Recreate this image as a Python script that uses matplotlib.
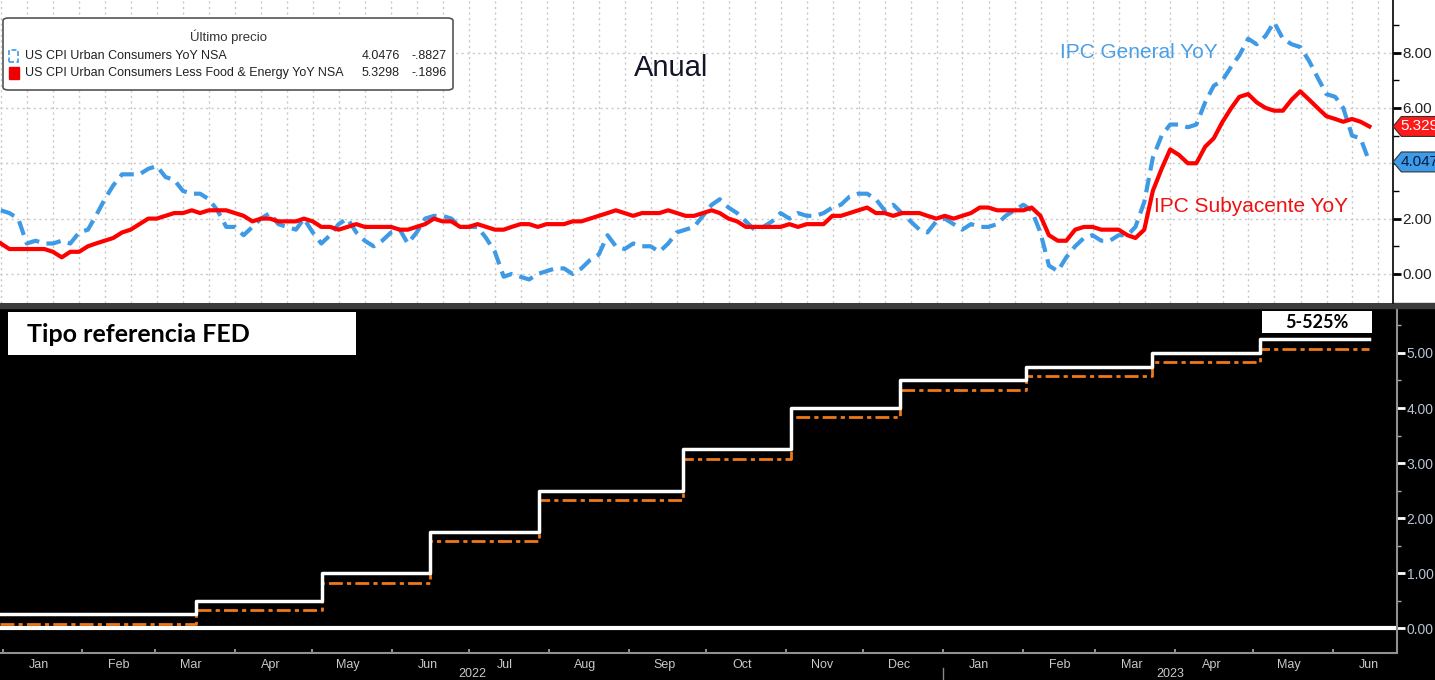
import matplotlib
matplotlib.use("Agg")
import matplotlib.pyplot as plt
import matplotlib.dates as mdates
import matplotlib.transforms as mtransforms
from matplotlib.patches import FancyBboxPatch, Rectangle, Polygon
import pandas as pd

# ---------------- data ----------------
cpi_start = "2010-03-31"
cpi_headline = [2.3, 2.2, 2.0, 1.1, 1.2, 1.1, 1.1, 1.2, 1.1, 1.5,
                1.6, 2.1, 2.7, 3.2, 3.6, 3.6, 3.6, 3.8, 3.9, 3.5, 3.4, 3.0,
                2.9, 2.9, 2.7, 2.3, 1.7, 1.7, 1.4, 1.7, 2.0, 2.2, 1.8, 1.7,
                1.6, 2.0, 1.5, 1.1, 1.4, 1.8, 2.0, 1.5, 1.2, 1.0, 1.2, 1.5,
                1.6, 1.1, 1.5, 2.0, 2.1, 2.1, 2.0, 1.7, 1.7, 1.7, 1.3, 0.8,
                -0.1, 0.0, -0.1, -0.2, 0.0, 0.1, 0.2, 0.2, 0.0, 0.2, 0.5, 0.7,
                1.4, 1.0, 0.9, 1.1, 1.0, 1.0, 0.8, 1.1, 1.5, 1.6, 1.7, 2.1,
                2.5, 2.7, 2.4, 2.2, 1.9, 1.6, 1.7, 1.9, 2.2, 2.0, 2.2, 2.1,
                2.1, 2.2, 2.4, 2.5, 2.8, 2.9, 2.9, 2.7, 2.3, 2.5, 2.2, 1.9,
                1.6, 1.5, 1.9, 2.0, 1.8, 1.6, 1.8, 1.7, 1.7, 1.8, 2.1, 2.3,
                2.5, 2.3, 1.5, 0.3, 0.1, 0.6, 1.0, 1.3, 1.4, 1.2, 1.2, 1.4,
                1.4, 1.7, 2.6, 4.2, 5.0, 5.4, 5.4, 5.3, 5.4, 6.2, 6.8, 7.0,
                7.5, 7.9, 8.5, 8.3, 8.6, 9.1, 8.5, 8.3, 8.2, 7.7, 7.1, 6.5,
                6.4, 6.0, 5.0, 4.9, 4.0476]
cpi_core = [1.1, 0.9, 0.9, 0.9, 0.9, 0.9, 0.8, 0.6, 0.8, 0.8,
            1.0, 1.1, 1.2, 1.3, 1.5, 1.6, 1.8, 2.0, 2.0, 2.1, 2.2, 2.2,
            2.3, 2.2, 2.3, 2.3, 2.3, 2.2, 2.1, 1.9, 2.0, 2.0, 1.9, 1.9,
            1.9, 2.0, 1.9, 1.7, 1.7, 1.6, 1.7, 1.8, 1.7, 1.7, 1.7, 1.7,
            1.6, 1.6, 1.7, 1.8, 2.0, 1.9, 1.9, 1.7, 1.7, 1.8, 1.7, 1.6,
            1.6, 1.7, 1.8, 1.8, 1.7, 1.8, 1.8, 1.8, 1.9, 1.9, 2.0, 2.1,
            2.2, 2.3, 2.2, 2.1, 2.2, 2.2, 2.2, 2.3, 2.2, 2.1, 2.1, 2.2,
            2.3, 2.2, 2.0, 1.9, 1.7, 1.7, 1.7, 1.7, 1.7, 1.8, 1.7, 1.8,
            1.8, 1.8, 2.1, 2.1, 2.2, 2.3, 2.4, 2.2, 2.2, 2.1, 2.2, 2.2,
            2.2, 2.1, 2.0, 2.1, 2.0, 2.1, 2.2, 2.4, 2.4, 2.3, 2.3, 2.3,
            2.3, 2.4, 2.1, 1.4, 1.2, 1.2, 1.6, 1.7, 1.7, 1.6, 1.6, 1.6,
            1.4, 1.3, 1.6, 3.0, 3.8, 4.5, 4.3, 4.0, 4.0, 4.6, 4.9, 5.5,
            6.0, 6.4, 6.5, 6.2, 6.0, 5.9, 5.9, 6.3, 6.6, 6.3, 6.0, 5.7,
            5.6, 5.5, 5.6, 5.5, 5.3298]
headline_last, headline_chg = "4.0476", "-.8827"
core_last, core_chg = "5.3298", "-.1896"

fed_dates = ["2021-12-31", "2022-03-17", "2022-05-05", "2022-06-16", "2022-07-28",
             "2022-09-22", "2022-11-03", "2022-12-15", "2023-02-02", "2023-03-23",
             "2023-05-04", "2023-06-15"]
fed_upper = [0.25, 0.50, 1.00, 1.75, 2.50, 3.25, 4.00, 4.50, 4.75, 5.00, 5.25, 5.25]
fed_effective = [0.08, 0.33, 0.83, 1.58, 2.33, 3.08, 3.83, 4.33, 4.58, 4.83, 5.08, 5.08]
month_labels = ["Jan", "Feb", "Mar", "Apr", "May", "Jun", "Jul", "Aug", "Sep",
                "Oct", "Nov", "Dec", "Jan", "Feb", "Mar", "Apr", "May", "Jun"]
year_labels = ["2022", "2023"]
top_ticks = [0, 2, 4, 6, 8]
top_tick_labels = ["0.00", "2.00", "", "6.00", "8.00"]

# ---------------- figure ----------------
W, H = 1435, 680
fig = plt.figure(figsize=(W / 100, H / 100), dpi=100)
NARROW = ["Liberation Sans", "DejaVu Sans"]
BOLD = ["Lato", "DejaVu Sans"]


def fx(x):
    return x / W


def fy(y):
    return 1 - y / H


# backgrounds
fig.patches.append(Rectangle((0, 0), 1, fy(306), transform=fig.transFigure,
                             color="black", zorder=-2))
fig.patches.append(Rectangle((0, fy(308)), 1, 5 / H, transform=fig.transFigure,
                             color="#3c3c3c", zorder=-1))

# ---------------- top panel ----------------
ax1 = fig.add_axes([0, fy(303), fx(1393), 303 / H])
ax1.set_facecolor("white")
cpi_dates = pd.date_range(cpi_start, periods=len(cpi_headline), freq="ME")
ax1.plot(cpi_dates, cpi_headline, color="#3f9ae6", lw=3, dashes=(3.5, 1.8), zorder=3)
ax1.plot(cpi_dates, cpi_core, color="#ff0000", lw=3, zorder=4)
ax1.set_ylim(-1.05, 9.9)
ax1.set_xlim(pd.Timestamp("2010-03-28"), pd.Timestamp("2023-08-22"))
ax1.set_yticks(top_ticks)
ax1.set_yticklabels(top_tick_labels)
ax1.set_yticks([1, 3, 5, 7, 9], minor=True)
ax1.yaxis.tick_right()
ax1.tick_params(axis="y", which="major", length=6, width=2, color="black",
                labelsize=11, labelcolor="#222222", pad=1)
ax1.tick_params(axis="y", which="minor", length=4, width=1, color="black")
for lab in ax1.get_yticklabels():
    lab.set_family(NARROW)
ax1.xaxis.set_major_locator(mdates.MonthLocator(bymonth=[1, 4, 7, 10]))
ax1.tick_params(axis="x", length=0, labelbottom=False)
ax1.grid(True, which="major", color="#c8c8c8", ls=(0, (1.5, 2.5)), lw=1)
for s in ["left", "top", "bottom"]:
    ax1.spines[s].set_visible(False)
ax1.spines["right"].set_color("black")
ax1.spines["right"].set_linewidth(1.2)

fig.text(fx(671), fy(68), "Anual", ha="center", va="center",
         fontsize=21, color="#15152a", family=NARROW, zorder=6)
fig.text(fx(1139), fy(52), "IPC General YoY", ha="center",
         va="center", fontsize=15, color="#4a9fe6", family=NARROW, zorder=6)
fig.text(fx(1251), fy(207), "IPC Subyacente YoY", ha="center",
         va="center", fontsize=15, color="#ee1111", family=NARROW, zorder=6)

# legend box
leg = FancyBboxPatch((fx(3), fy(90)), fx(450), 72 / H, transform=fig.transFigure,
                     boxstyle="round,pad=0,rounding_size=0.004", fc="white",
                     ec="#555555", lw=1.2, zorder=7)
fig.patches.append(leg)
fig.text(fx(228), fy(37), "Último precio", ha="center", va="center", fontsize=9.5,
         color="#333333", family=NARROW, zorder=8)
rows = [("US CPI Urban Consumers YoY NSA", headline_last, headline_chg, "#3f9ae6", 56),
        ("US CPI Urban Consumers Less Food & Energy YoY NSA", core_last, core_chg, "#ee0000", 73)]
for i, (name, last, chg, col, yy) in enumerate(rows):
    if i == 0:
        fig.patches.append(Rectangle((fx(9), fy(yy + 6)), fx(9), 12 / H, transform=fig.transFigure,
                                     fc="white", ec=col, lw=1.2, ls=(0, (3, 1.5)), zorder=8))
    else:
        fig.patches.append(Rectangle((fx(9), fy(yy + 6)), fx(10), 12 / H, transform=fig.transFigure,
                                     fc=col, ec=col, lw=1, zorder=8))
    fig.text(fx(25), fy(yy), name, ha="left", va="center", fontsize=9, color="#222222",
             family=NARROW, zorder=8)
    fig.text(fx(400), fy(yy), last, ha="right", va="center", fontsize=9, color="#222222",
             family=NARROW, zorder=8)
    fig.text(fx(447), fy(yy), chg, ha="right", va="center", fontsize=9, color="#222222",
             family=NARROW, zorder=8)

# value tags on the right axis
btr = mtransforms.blended_transform_factory(ax1.transAxes, ax1.transData)
for val, txt, fc, tc in [(cpi_core[-1], core_last, "#ff1a1a", "white"),
                         (cpi_headline[-1], headline_last, "#3d9be9", "#0a1a3a")]:
    hh = 0.36
    poly = Polygon([(1.0, val), (1.006, val + hh), (1.06, val + hh), (1.06, val - hh),
                    (1.006, val - hh)], closed=True, transform=btr, clip_on=False,
                   fc=fc, ec="#333333", lw=0.8, zorder=10)
    ax1.add_patch(poly)
    ax1.text(1.0055, val, txt, transform=btr, ha="left", va="center", fontsize=11,
             color=tc, family=NARROW, zorder=11, clip_on=False)

# ---------------- bottom panel ----------------
ax2 = fig.add_axes([0, fy(653), fx(1397), (653 - 310) / H])
ax2.set_facecolor("black")
fd = pd.to_datetime(fed_dates)
ax2.axhline(0, color="white", lw=3, zorder=2)
ax2.step(fd, fed_effective, where="post", color="#f07818", lw=2,
         ls=(0, (5, 1.5, 1.5, 1.5)), zorder=3)
ax2.step(fd, fed_upper, where="post", color="white", lw=2.5, zorder=4)
ax2.set_ylim(-0.45, 5.78)
ax2.set_xlim(pd.Timestamp("2021-12-31"), pd.Timestamp("2023-06-26"))
ax2.set_yticks([0, 1, 2, 3, 4, 5])
ax2.set_yticks([0.5, 1.5, 2.5, 3.5, 4.5, 5.5], minor=True)
ax2.yaxis.tick_right()
ax2.yaxis.set_major_formatter(plt.FuncFormatter(lambda v, p: f"{v:.2f}"))
ax2.tick_params(axis="y", which="major", length=6, width=2, color="white",
                labelsize=10, labelcolor="#b8c2d2", pad=1)
ax2.tick_params(axis="y", which="minor", length=3, width=1, color="#aaaaaa")
for lab in ax2.get_yticklabels():
    lab.set_family(NARROW)
month_starts = pd.date_range("2022-01-01", "2023-06-01", freq="MS")
mids = month_starts + pd.Timedelta(days=14)
ax2.set_xticks(month_starts)
ax2.set_xticklabels([])
ax2.set_xticks(mids, minor=True)
ax2.set_xticklabels(month_labels, minor=True)
ax2.tick_params(axis="x", which="major", length=3, width=1.2, color="#aaaaaa", direction="in")
ax2.tick_params(axis="x", which="minor", length=0, labelsize=9, labelcolor="#c8c8c8", pad=4)
for lab in ax2.get_xticklabels(minor=True):
    lab.set_family(NARROW)
for s in ["left", "top"]:
    ax2.spines[s].set_visible(False)
for s in ["right", "bottom"]:
    ax2.spines[s].set_color("#909090")
    ax2.spines[s].set_linewidth(1.5)

fig.text(fx(472), fy(674), year_labels[0], ha="center", va="center", fontsize=9,
         color="#c8c8c8", family=NARROW)
fig.text(fx(1170), fy(674), year_labels[1], ha="center", va="center", fontsize=9,
         color="#c8c8c8", family=NARROW)
fig.lines.append(plt.Line2D([fx(943), fx(943)], [fy(668), fy(680)], transform=fig.transFigure,
                            color="#888888", lw=1))

# title boxes
fig.patches.append(Rectangle((fx(8), fy(355)), fx(348), 43 / H, transform=fig.transFigure,
                             fc="white", ec="none", zorder=8))
fig.text(fx(27), fy(334), "Tipo referencia FED", ha="left", va="center", fontsize=18,
         fontweight="bold", color="black", family=BOLD, zorder=9)
fig.patches.append(Rectangle((fx(1262), fy(333)), fx(110), 22 / H, transform=fig.transFigure,
                             fc="white", ec="none", zorder=8))
fig.text(fx(1317), fy(322), "5-525%", ha="center", va="center", fontsize=13,
         fontweight="bold", color="black", family=BOLD, zorder=9)

fig.savefig("out.png", dpi=100, facecolor="white")
